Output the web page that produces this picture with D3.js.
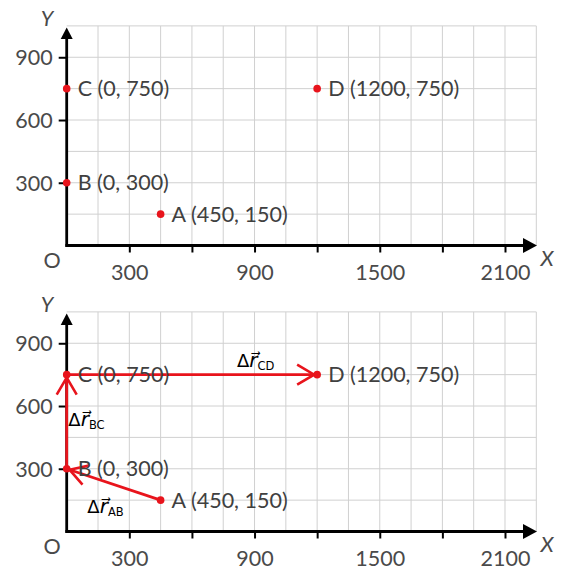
<!DOCTYPE html>
<html>
<head>
<meta charset="utf-8">
<script src="https://cdn.jsdelivr.net/npm/d3@7"></script>
<style>
  body { margin: 0; background: #fff; }
  svg { display: block; }
  .tick text { font-family: Lato, "Open Sans", sans-serif; font-size: 21.5px; fill: #4a4a4a; }
</style>
</head>
<body>
<div id="chart"></div>
<script>
"use strict";

// data
const pointNames = ["A", "B", "C", "D"];
const pointX = [450, 0, 0, 1200];
const pointY = [150, 300, 750, 750];

const xTicks = [300, 600, 900, 1200, 1500, 1800, 2100];
const xTickLabels = [300, 900, 1500, 2100];
const yTicks = [300, 600, 900];
const yTickLabels = [300, 600, 900];

// displacement vectors (from, to) for lower panel
const vecFrom = ["A", "B", "C"];
const vecTo = ["B", "C", "D"];
const vecNames = ["AB", "BC", "CD"];

const W = 561, H = 571;
const PANEL_SHIFT = 286;
const RED = "#e8141c";
const FONT = "Lato, 'Open Sans', sans-serif";

const svg = d3.select("#chart").append("svg")
    .attr("width", W)
    .attr("height", H);

const xscale = d3.scaleLinear().domain([0, 2250]).range([66.7, 536.3]);
const yscale = d3.scaleLinear().domain([0, 1050]).range([245.5, 25.9]);

const defs = svg.append("defs");
defs.append("marker")
    .attr("id", "chev")
    .attr("markerUnits", "userSpaceOnUse")
    .attr("viewBox", "-20 -12 24 24")
    .attr("markerWidth", 24)
    .attr("markerHeight", 24)
    .attr("refX", 0)
    .attr("refY", 0)
    .attr("orient", "auto")
    .append("path")
    .attr("d", "M-17,-10L0,0L-17,10")
    .attr("fill", "none")
    .attr("stroke", RED)
    .attr("stroke-width", 2.6);

// where the vector names sit (data units, left end of the baseline)
const vecLabelAt = { AB: [99, 90], BC: [8, 505], CD: [816, 788] };

function pt(name) {
    const i = pointNames.indexOf(name);
    return [pointX[i], pointY[i]];
}

function draw_panel(g, withVectors) {
    // grid
    const grid = g.append("g").attr("stroke", "#d0d0d0").attr("stroke-width", 1);
    grid.selectAll(".v").data(d3.range(150, 2251, 150)).join("line")
        .attr("x1", d => xscale(d)).attr("x2", d => xscale(d))
        .attr("y1", yscale(0)).attr("y2", yscale(1050));
    grid.selectAll(".h").data(d3.range(150, 1051, 150)).join("line")
        .attr("x1", xscale(0)).attr("x2", xscale(2250))
        .attr("y1", d => yscale(d)).attr("y2", d => yscale(d));

    // axis ticks
    const xa = g.append("g")
        .attr("transform", `translate(0,${yscale(0)})`)
        .call(d3.axisBottom(xscale).tickValues(xTicks).tickSize(7).tickPadding(12)
            .tickFormat(d => xTickLabels.includes(d) ? d : ""));
    const ya = g.append("g")
        .attr("transform", `translate(${xscale(0)},0)`)
        .call(d3.axisLeft(yscale).tickValues(yTicks).tickSize(8).tickPadding(6)
            .tickFormat(d => yTickLabels.includes(d) ? d : ""));
    [xa, ya].forEach(a => {
        a.select(".domain").remove();
        a.selectAll(".tick line").attr("stroke", "#000").attr("stroke-width", 2);
    });
    ya.selectAll(".tick text").attr("dy", "0.34em");

    // axis lines with arrowheads
    const x0 = xscale(0), y0 = yscale(0);
    g.append("line")
        .attr("x1", x0 - 1.3).attr("x2", 526).attr("y1", y0).attr("y2", y0)
        .attr("stroke", "#000").attr("stroke-width", 2.8);
    g.append("line")
        .attr("x1", x0).attr("x2", x0).attr("y1", y0 + 1.3).attr("y2", 36)
        .attr("stroke", "#000").attr("stroke-width", 2.8);
    g.append("path")
        .attr("d", `M523,${y0 - 7.5}L537,${y0}L523,${y0 + 7.5}Z`)
        .attr("fill", "#000");
    g.append("path")
        .attr("d", `M${x0 - 6},39L${x0},27.5L${x0 + 6},39Z`)
        .attr("fill", "#000");

    g.append("text").attr("x", 52).attr("y", 268).attr("text-anchor", "middle")
        .attr("font-family", FONT).attr("font-size", 21.5).attr("fill", "#4a4a4a").text("O");
    g.append("text").attr("x", 547).attr("y", 266).attr("text-anchor", "middle")
        .attr("font-family", FONT).attr("font-style", "italic")
        .attr("font-size", 21.5).attr("fill", "#4a4a4a").text("X");
    g.append("text").attr("x", 47).attr("y", 26).attr("text-anchor", "middle")
        .attr("font-family", FONT).attr("font-style", "italic")
        .attr("font-size", 21.5).attr("fill", "#4a4a4a").text("Y");

    // vectors
    if (withVectors) {
        const vg = g.append("g");
        vecFrom.forEach((f, i) => {
            const a = pt(f), b = pt(vecTo[i]);
            const ax = xscale(a[0]), ay = yscale(a[1]);
            const bx = xscale(b[0]), by = yscale(b[1]);
            const len = Math.hypot(bx - ax, by - ay);
            const ux = (bx - ax) / len, uy = (by - ay) / len;
            vg.append("line")
                .attr("x1", ax).attr("y1", ay)
                .attr("x2", bx - ux * 3).attr("y2", by - uy * 3)
                .attr("stroke", RED).attr("stroke-width", 2.8)
                .attr("marker-end", "url(#chev)");
        });
    }

    // points
    const pg = g.append("g");
    pg.selectAll("circle").data(pointNames).join("circle")
        .attr("cx", (d, i) => xscale(pointX[i]))
        .attr("cy", (d, i) => yscale(pointY[i]))
        .attr("r", 3.8)
        .attr("fill", RED);
    pg.selectAll("text").data(pointNames).join("text")
        .attr("x", (d, i) => xscale(pointX[i]) + 11)
        .attr("y", (d, i) => yscale(pointY[i]))
        .attr("dy", "0.36em")
        .attr("font-family", FONT)
        .attr("font-size", 21.5)
        .attr("fill", "#404040")
        .text((d, i) => `${d} (${pointX[i]}, ${pointY[i]})`);

    if (withVectors) {
        vecNames.forEach(n => {
            const p = vecLabelAt[n];
            const t = g.append("text")
                .attr("x", xscale(p[0])).attr("y", yscale(p[1]))
                .attr("font-family", "'DejaVu Sans', sans-serif")
                .attr("font-size", 18).attr("fill", "#000");
            t.append("tspan").text("Δ");
            t.append("tspan").attr("font-style", "italic").attr("font-size", 20).text("r\u20D7");
            t.append("tspan").attr("font-size", 11.5).attr("dy", 3).text(n);
        });
    }
}

draw_panel(svg.append("g"), false);
draw_panel(svg.append("g").attr("transform", `translate(0,${PANEL_SHIFT})`), true);
</script>
</body>
</html>
